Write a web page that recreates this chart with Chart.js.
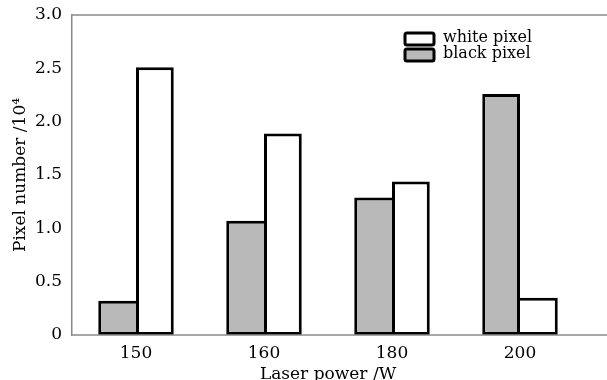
<!DOCTYPE html>
<html>
<head>
<meta charset="utf-8">
<script src="https://cdn.jsdelivr.net/npm/chart.js@4/dist/chart.umd.min.js"></script>
<style>
  html, body { margin: 0; padding: 0; background: #fff; }
  #wrap { width: 607px; height: 380px; }
</style>
</head>
<body>
<div id="wrap"><canvas id="c" width="607" height="380"></canvas></div>
<script>
const powers = ['150', '160', '180', '200'];
const blackPixel = [0.32, 1.07, 1.29, 2.26];
const whitePixel = [2.51, 1.89, 1.44, 0.35];
const yTicks = [0, 0.5, 1.0, 1.5, 2.0, 2.5, 3.0];

const serif = '"DejaVu Serif", "Liberation Serif", serif';
const axisGrey = '#8a8a8a';

// the shared edge between the two bars of a group is drawn once, by the taller bar
function edgeWidths(ctx) {
    const i = ctx.dataIndex;
    const b = blackPixel[i], w = whitePixel[i];
    if (ctx.datasetIndex === 0) {
        return { top: 3, bottom: 3, left: 3, right: b >= w ? 3 : 0 };
    }
    return { top: 3, bottom: 3, right: 3, left: w > b ? 3 : 0 };
}

// frame line on top + axis line running to the canvas edge, legend inside plot
const framePlugin = {
    id: 'frame',
    afterDraw(chart) {
        const { ctx, chartArea } = chart;
        ctx.save();
        ctx.strokeStyle = axisGrey;
        ctx.lineWidth = 1.5;
        ctx.beginPath();
        ctx.moveTo(chartArea.left, chartArea.top);
        ctx.lineTo(chart.width, chartArea.top);
        ctx.moveTo(chartArea.left, chartArea.bottom);
        ctx.lineTo(chart.width, chartArea.bottom);
        ctx.stroke();

        // legend
        const items = [chart.data.datasets[1], chart.data.datasets[0]];
        let y = 33;
        items.forEach(ds => {
            ctx.fillStyle = ds.backgroundColor;
            ctx.strokeStyle = '#000';
            ctx.lineWidth = 3;
            ctx.beginPath();
            ctx.roundRect(405, y, 29, 12, 2);
            ctx.fill();
            ctx.stroke();
            ctx.fillStyle = '#000';
            ctx.font = '16px ' + serif;
            ctx.textBaseline = 'middle';
            ctx.fillText(ds.label, 443, y + 5);
            y += 16;
        });
        ctx.restore();
    }
};

new Chart(document.getElementById('c'), {
    type: 'bar',
    data: {
        labels: powers,
        datasets: [{
            label: 'black pixel',
            data: blackPixel,
            backgroundColor: '#b9b9b9',
            borderColor: '#000',
            borderWidth: edgeWidths,
            borderSkipped: false,
            inflateAmount: 0
        }, {
            label: 'white pixel',
            data: whitePixel,
            backgroundColor: '#ffffff',
            borderColor: '#000',
            borderWidth: edgeWidths,
            borderSkipped: false,
            inflateAmount: 0
        }]
    },
    options: {
        responsive: false,
        animation: false,
        layout: { padding: { left: 0, right: 23, top: 15, bottom: 0 } },
        datasets: { bar: { categoryPercentage: 0.59, barPercentage: 1.0 } },
        plugins: { legend: { display: false }, tooltip: { enabled: false } },
        scales: {
            x: {
                grid: { display: false },
                border: { display: false },
                ticks: { color: '#000', font: { family: serif, size: 17 }, padding: 0 },
                title: {
                    display: true, text: 'Laser power /W', color: '#000',
                    font: { family: serif, size: 17 }, padding: { top: 0, bottom: -5 }
                },
                afterFit(scale) { scale.height = 45; }
            },
            y: {
                min: 0, max: 3.0,
                afterBuildTicks(scale) { scale.ticks = yTicks.map(v => ({ value: v })); },
                grid: { display: false },
                border: { display: true, color: axisGrey, width: 1.5 },
                ticks: {
                    color: '#000', font: { family: serif, size: 17 }, padding: 2,
                    callback: v => v === 0 ? '0' : v.toFixed(1)
                },
                title: {
                    display: true, text: 'Pixel number /10\u2074', color: '#000',
                    font: { family: serif, size: 17 }, padding: { top: 10, bottom: 0 }
                },
                afterFit(scale) { scale.width = 72; }
            }
        }
    },
    plugins: [framePlugin]
});
</script>
</body>
</html>
